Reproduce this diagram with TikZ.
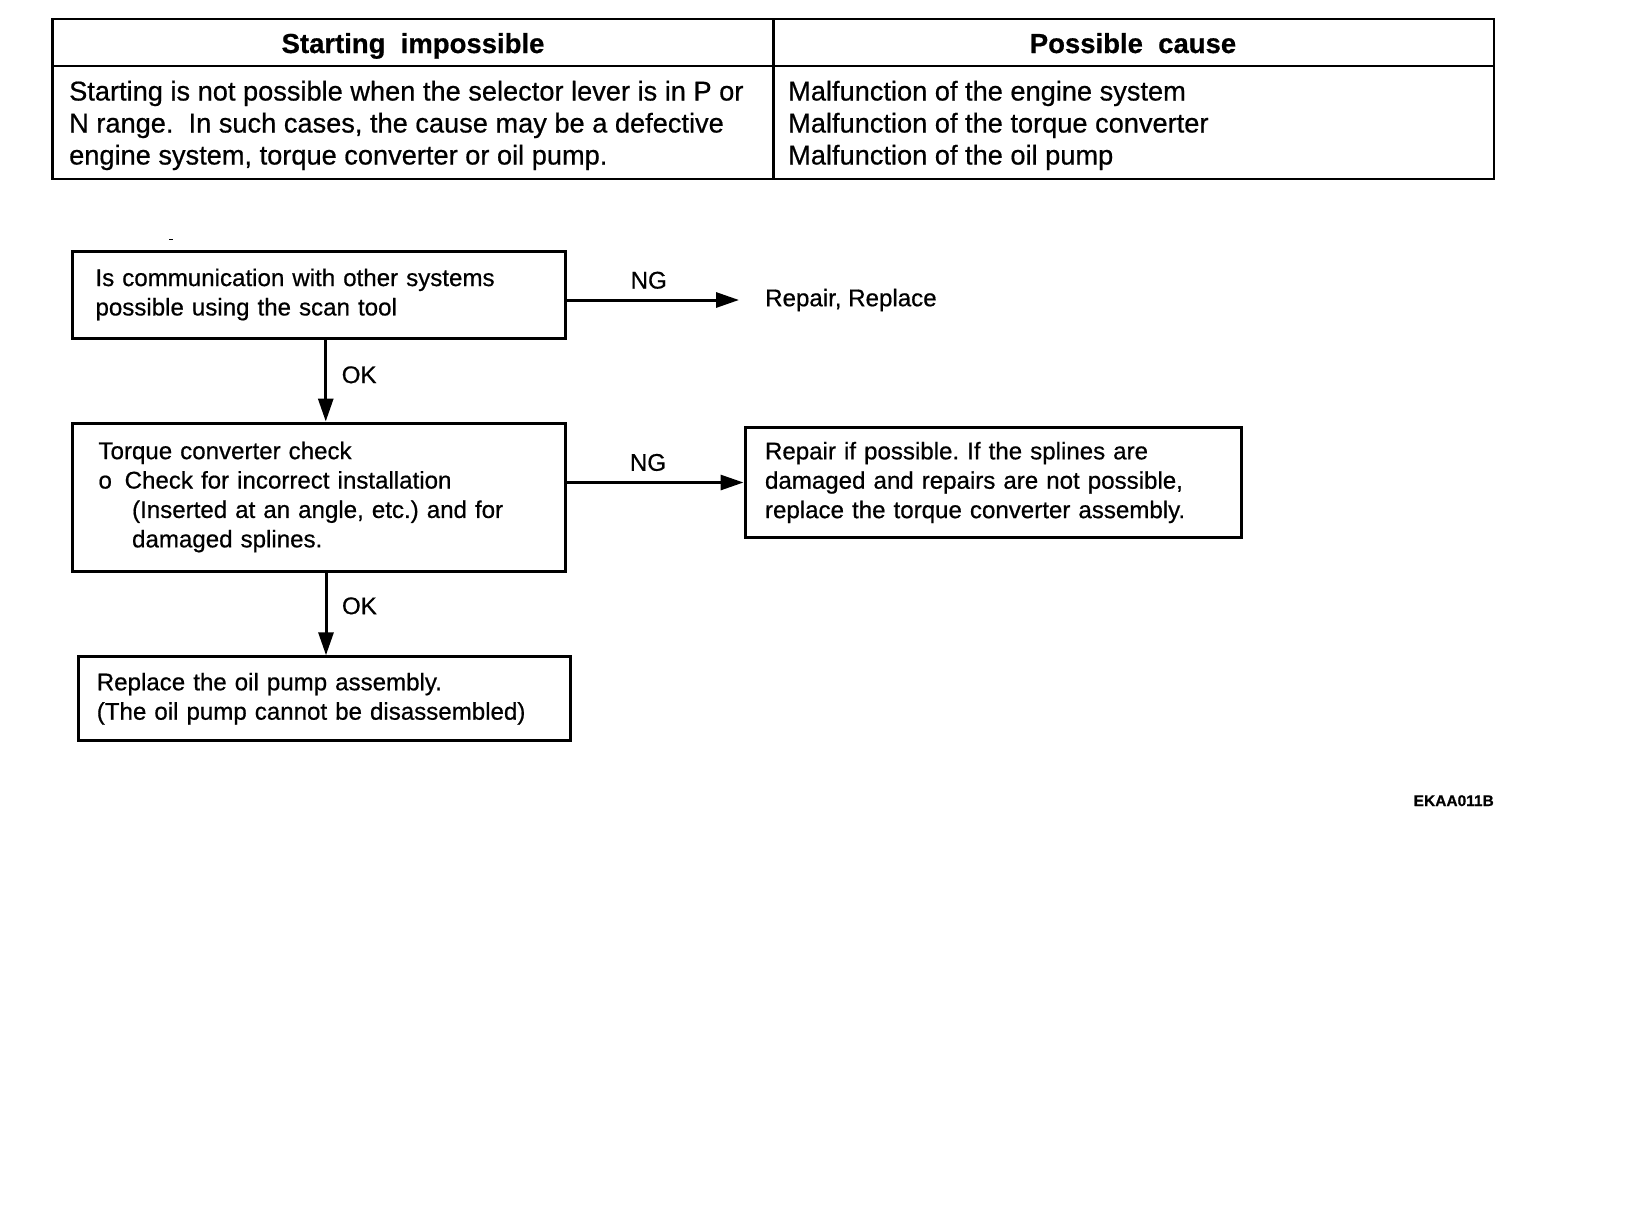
\documentclass[tikz,border=0pt]{standalone}
\usepackage{fontspec}
\setmainfont{Liberation Sans}[FakeBold=0.6]
\usetikzlibrary{arrows.meta}
\frenchspacing
\begin{document}
\begin{tikzpicture}[x=1pt,y=-1pt,
  tline/.style={line width=2.4pt},
  fbox/.style={draw, line width=3pt, align=left, inner ysep=2pt, font=\fontsize{24.1}{29.4}\selectfont},
  arr/.style={line width=3pt, -{Triangle[length=23pt,width=15pt]}},
  lbl/.style={inner sep=0pt, font=\fontsize{24.1}{29.4}\selectfont},
  ttext/.style={inner sep=0pt, align=left, anchor=base west, font=\fontsize{27.2}{32}\selectfont},
  thead/.style={inner sep=0pt, anchor=base, font=\fontsize{27.5}{32}\selectfont\bfseries}]
\fill[white] (0,0) rectangle (1648,1224);
\useasboundingbox (0,0) rectangle (1648,1224);

% table
\draw[tline] (52.5,19) rectangle (1494,179);
\draw[tline] (52.5,66) -- (1494,66);
\draw[tline] (773.5,19) -- (773.5,179);
\node[thead] (h1) at (413,53) {Starting\ \ impossible};
\node[thead] (h2) at (1133,53) {Possible\ \ cause};
\node[ttext] (c1) at (69,164.5) {Starting is not possible when the selector lever is in P or\\N range.\ \ In such cases, the cause may be a defective\\engine system, torque converter or oil pump.};
\node[ttext] (c2) at (788,164.5) {Malfunction of the engine system\\Malfunction of the torque converter\\Malfunction of the oil pump};

% stray mark
\draw[line width=1.5pt] (169,239.6) -- (173,239.6);

% flowchart boxes
\node[fbox, minimum width=492.5pt, minimum height=87pt, inner xsep=23pt, text width=446.5pt] (b1) at (318.75,294.5)
  {Is communication with other systems\\possible using the scan tool};
\node[fbox, minimum width=492.5pt, minimum height=148pt, inner xsep=26pt, text width=440.5pt] (b2) at (318.75,497)
  {Torque converter check\\\makebox[26.2pt][l]{o}Check for incorrect installation\\\hspace*{33.6pt}(Inserted at an angle, etc.) and for\\\hspace*{33.6pt}damaged splines.};
\node[fbox, minimum width=496pt, minimum height=110.3pt, inner xsep=20pt, text width=456pt] (b3) at (993,482.5)
  {Repair if possible. If the splines are\\damaged and repairs are not possible,\\replace the torque converter assembly.};
\node[fbox, minimum width=491.8pt, minimum height=84pt, inner xsep=18pt, text width=455.8pt] (b4) at (324.7,698.75)
  {Replace the oil pump assembly.\\(The oil pump cannot be disassembled)};
\node[lbl, anchor=west] (rep) at (765,300) {Repair, Replace};

% connectors
\draw[arr] (b1.east |- rep.west) -- ([xshift=-26pt]rep.west)
  node[lbl, midway, above=9.7pt, xshift=-4pt] (ng1) {NG};
\draw[arr] ([xshift=7pt]b1.south) -- ([xshift=7pt]b1.south |- b2.north)
  node[lbl, midway, right=14.5pt, yshift=5.7pt] (ok1) {OK};
\draw[arr] (b2.east |- b3.west) -- (b3.west)
  node[lbl, midway, above=10pt, xshift=-7pt] (ng2) {NG};
\draw[arr] ([xshift=7.25pt]b2.south) -- ([xshift=7.25pt]b2.south |- b4.north)
  node[lbl, midway, right=14.5pt, yshift=8pt] (ok2) {OK};

\node[inner sep=0pt, anchor=east, font=\fontsize{15.5}{16}\selectfont\bfseries] (code) at (1494,800.7) {EKAA011B};
\end{tikzpicture}
\end{document}
